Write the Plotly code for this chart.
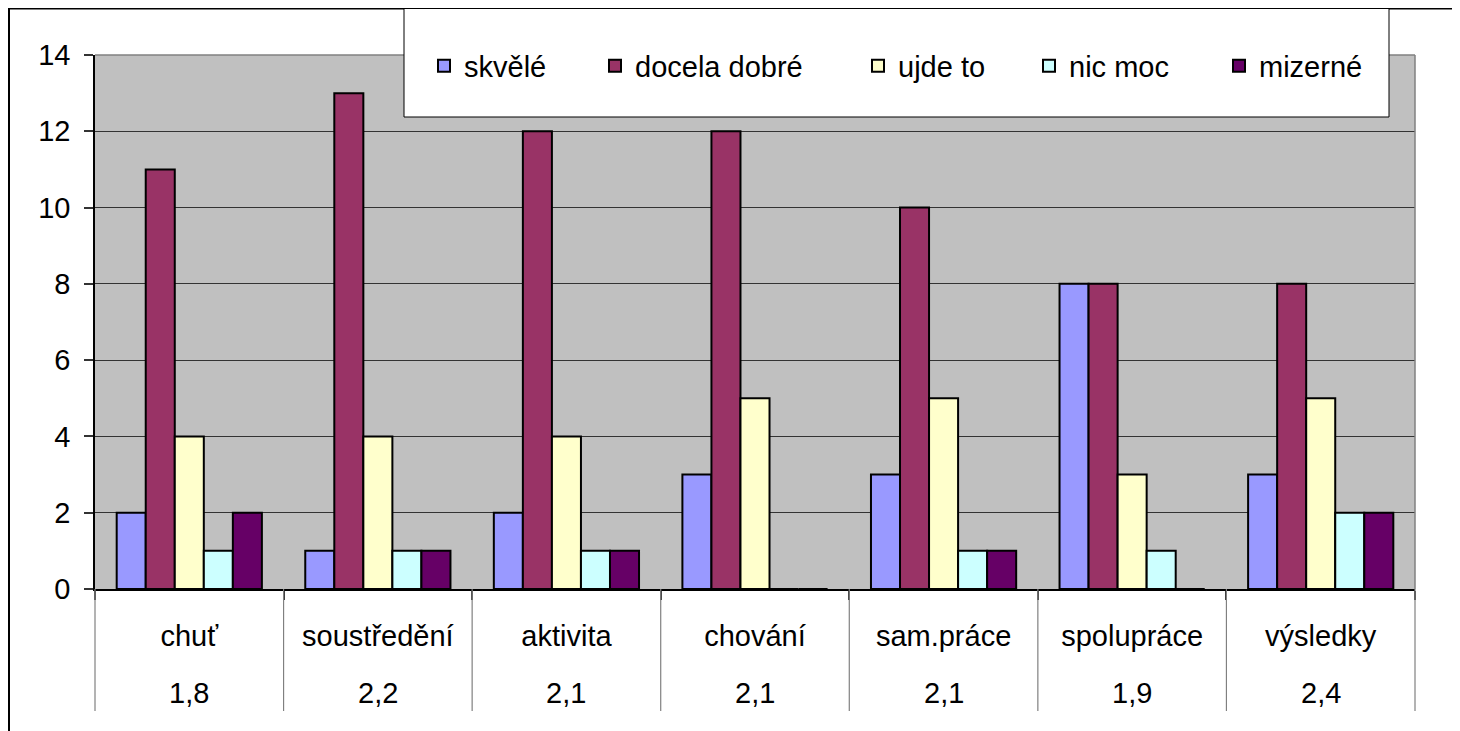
import plotly.graph_objects as go

categories = ["chuť", "soustředění", "aktivita", "chování", "sam.práce", "spolupráce", "výsledky"]
averages = ["1,8", "2,2", "2,1", "2,1", "2,1", "1,9", "2,4"]
series_names = ["skvělé", "docela dobré", "ujde to", "nic moc", "mizerné"]
skvele = [2, 1, 2, 3, 3, 8, 3]
docela_dobre = [11, 13, 12, 12, 10, 8, 8]
ujde_to = [4, 4, 4, 5, 5, 3, 5]
nic_moc = [1, 1, 1, 0, 1, 1, 2]
mizerne = [2, 1, 1, 0, 1, 0, 2]
series_values = [skvele, docela_dobre, ujde_to, nic_moc, mizerne]
colors = ["#9999FF", "#993366", "#FFFFCC", "#CCFFFF", "#660066"]

# page body has an 8px margin: work in reference coordinates and shift
OFF = 8
W, H = 1452, 723
L = 95 - OFF
T = 55 - OFF
R = W - (1415 - OFF)
B = H - (589 - OFF)
PW, PH = W - L - R, H - T - B


def px(x):
    return (x - OFF - L) / PW


def py(y):
    return (H - B - (y - OFF)) / PH


FONT = "Liberation Sans, Arial, sans-serif"
FS = 29

fig = go.Figure()
legend_ids = ["legend", "legend2", "legend3", "legend4", "legend5"]
for name, vals, col, lg in zip(series_names, series_values, colors, legend_ids):
    fig.add_trace(go.Bar(
        x=categories, y=vals, name=name, legend=lg,
        marker=dict(color=col, line=dict(color="black", width=2)),
    ))

shapes = []
# outer chart border
shapes.append(dict(type="rect", xref="paper", yref="paper",
                   x0=px(9), x1=px(1480), y0=py(760), y1=py(8.5),
                   line=dict(color="black", width=2), fillcolor="rgba(0,0,0,0)", layer="above"))
# plot area top/right border
shapes.append(dict(type="line", xref="paper", yref="paper", x0=0, x1=1, y0=1, y1=1,
                   line=dict(color="#808080", width=1.5), layer="above"))
shapes.append(dict(type="line", xref="paper", yref="paper", x0=1, x1=1, y0=0, y1=1,
                   line=dict(color="#808080", width=1.5), layer="above"))
# category dividers below axis
n = len(categories)
for k in range(n + 1):
    xx = k / n
    shapes.append(dict(type="line", xref="paper", yref="paper", x0=xx, x1=xx,
                       y0=0, y1=py(711), line=dict(color="#808080", width=1.2)))
# legend box
shapes.append(dict(type="rect", xref="paper", yref="paper",
                   x0=px(404), x1=px(1389), y0=py(117), y1=py(8.5),
                   line=dict(color="black", width=1), fillcolor="white", layer="above"))

annotations = []
for c, a in zip(categories, averages):
    annotations.append(dict(x=c, xref="x", y=py(693), yref="paper", text=a, showarrow=False,
                            xanchor="center", yanchor="middle",
                            font=dict(family=FONT, size=FS, color="black")))

text_start = [463, 634, 897, 1068, 1258]
layout_legends = {}
for lg, ts in zip(legend_ids, text_start):
    layout_legends[lg] = dict(
        x=px(ts - 39), y=py(66), xanchor="left", yanchor="middle",
        orientation="h", bgcolor="rgba(0,0,0,0)", borderwidth=0,
        font=dict(family=FONT, size=FS, color="black"),
        itemwidth=30,
    )

fig.update_layout(
    width=W, height=H,
    margin=dict(l=L, r=R, t=T, b=B, pad=0),
    paper_bgcolor="white", plot_bgcolor="#C0C0C0",
    barmode="group", bargap=0.23, bargroupgap=0,
    showlegend=True,
    font=dict(family=FONT, size=FS, color="black"),
    shapes=shapes, annotations=annotations,
    xaxis=dict(type="category", showline=True, linecolor="black", linewidth=1.5,
               ticks="outside", tickson="boundaries", ticklen=9, tickcolor="#333333",
               tickwidth=1.5, showgrid=False, ticklabelstandoff=20,
               tickfont=dict(family=FONT, size=FS, color="black")),
    yaxis=dict(range=[0, 14], dtick=2, tick0=0, showline=True, linecolor="black", linewidth=1.5,
               ticks="outside", ticklen=9, tickcolor="#333333", tickwidth=1.5,
               showgrid=True, gridcolor="#333333", gridwidth=1, zeroline=False,
               ticklabelstandoff=8,
               tickfont=dict(family=FONT, size=FS, color="black")),
    **layout_legends,
)

fig.write_html("out.html")
